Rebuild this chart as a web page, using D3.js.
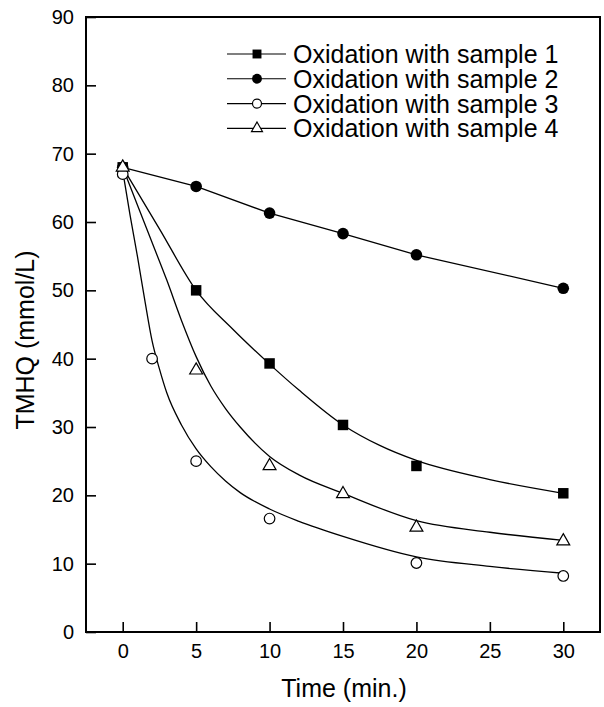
<!doctype html>
<html>
  <head>
    <title>TMHQ oxidation</title>
    <style>
      * { margin: 0; padding: 0; }
      body { background: #fff; font-family: "Liberation Sans", Arial, Helvetica, sans-serif; }
      .tick text { font-size: 20px; fill: #000; font-family: "Liberation Sans", Arial, sans-serif; }
      .tick line { stroke: #000; stroke-width: 1.6px; }
    </style>
    <script src="https://cdnjs.cloudflare.com/ajax/libs/d3/7.8.5/d3.min.js"></script>
  </head>
  <body>
    <script>
    // data
    var names = ["Oxidation with sample 1", "Oxidation with sample 2", "Oxidation with sample 3", "Oxidation with sample 4"];
    var markers = ["square", "circle", "ocircle", "triangle"];

    // measured points
    var t1 = [0, 5, 10, 15, 20, 30];
    var s1 = [68, 50, 39.3, 30.3, 24.3, 20.3];
    var t2 = [0, 5, 10, 15, 20, 30];
    var s2 = [68, 65.2, 61.3, 58.3, 55.2, 50.3];
    var t3 = [0, 2, 5, 10, 20, 30];
    var s3 = [67, 40, 25, 16.6, 10.1, 8.2];
    var t4 = [0, 5, 10, 15, 20, 30];
    var s4 = [68, 38.3, 24.3, 20.2, 15.3, 13.3];

    // fitted curves
    var c1t = [0, 2.5, 5, 7.5, 10, 12, 15, 17.5, 20, 25, 30];
    var c1v = [68, 59, 50, 44.3, 39.2, 35.4, 30.3, 27.3, 25.1, 22.3, 20.3];
    var c2t = [0, 5, 10, 15, 20, 30];
    var c2v = [68, 65.2, 61.3, 58.3, 55.2, 50.3];
    var c3t = [0, 0.5, 1, 1.5, 2, 2.5, 3, 4, 5, 6, 7, 8, 10, 12, 15, 20, 25, 30];
    var c3v = [67.5, 61, 55, 48.6, 42.6, 38.5, 35, 30.3, 26.8, 24.2, 22.1, 20.4, 18, 16.2, 14, 11, 9.6, 8.6];
    var c4t = [0, 1, 2, 3, 4, 5, 6, 7, 8, 10, 12, 15, 20, 25, 30];
    var c4v = [68, 62.5, 57, 51.5, 45.6, 40.3, 36, 32.7, 30, 25.7, 23, 20.3, 16.3, 14.6, 13.4];

    var xTicks = [0, 5, 10, 15, 20, 25, 30];
    var yTicks = [0, 10, 20, 30, 40, 50, 60, 70, 80, 90];

    var W = 604, H = 707;
    var svg = d3.select("body").append("svg").attr("width", W).attr("height", H);

    var x = d3.scaleLinear().domain([-2.5, 32.5]).range([86, 600]);
    var y = d3.scaleLinear().domain([0, 90]).range([632, 17]);

    // axes, ticks pointing inward
    svg.append("g")
      .attr("transform", "translate(0,632)")
      .call(d3.axisBottom(x).tickValues(xTicks).tickSize(-10).tickPadding(12))
      .call(function (g) { g.select(".domain").remove(); });

    svg.append("g")
      .attr("transform", "translate(86,0)")
      .call(d3.axisLeft(y).tickValues(yTicks).tickSize(-10).tickPadding(12))
      .call(function (g) { g.select(".domain").remove(); });

    // frame
    svg.append("rect")
      .attr("x", x.range()[0]).attr("y", y.range()[1])
      .attr("width", x.range()[1] - x.range()[0])
      .attr("height", y.range()[0] - y.range()[1])
      .attr("fill", "none").attr("stroke", "#000").attr("stroke-width", 2);

    // curves
    var line = d3.line()
      .x(function (d) { return x(d[0]); })
      .y(function (d) { return y(d[1]); })
      .curve(d3.curveMonotoneX);
    var straight = d3.line()
      .x(function (d) { return x(d[0]); })
      .y(function (d) { return y(d[1]); });

    var curves = [[c1t, c1v], [c2t, c2v], [c3t, c3v], [c4t, c4v]];
    curves.forEach(function (c, i) {
      var pts = d3.zip(c[0], c[1]);
      svg.append("path")
        .attr("d", i === 1 ? straight(pts) : line(pts))
        .attr("fill", "none").attr("stroke", "#000").attr("stroke-width", 1.3);
    });

    function drawMarker(g, kind, cx, cy, k) {
      k = k || 1;
      if (kind === "square") {
        g.append("path").attr("d", d3.symbol(d3.symbolSquare, 110 * k * k)())
          .attr("transform", "translate(" + cx + "," + cy + ")").attr("fill", "#000");
      } else if (kind === "circle") {
        g.append("circle").attr("cx", cx).attr("cy", cy).attr("r", 5.8 * k).attr("fill", "#000");
      } else if (kind === "ocircle") {
        g.append("circle").attr("cx", cx).attr("cy", cy).attr("r", 5.3 * k)
          .attr("fill", "#fff").attr("stroke", "#000").attr("stroke-width", 1.2);
      } else {
        g.append("path").attr("d", d3.symbol(d3.symbolTriangle, 72 * k * k)())
          .attr("transform", "translate(" + cx + "," + cy + ")")
          .attr("fill", "#fff").attr("stroke", "#000").attr("stroke-width", 1.2);
      }
    }

    var pts = [[t1, s1], [t2, s2], [t3, s3], [t4, s4]];
    var mg = svg.append("g");
    pts.forEach(function (p, i) {
      p[0].forEach(function (t, j) {
        drawMarker(mg, markers[i], x(t), y(p[1][j]));
      });
    });

    // legend
    var lg = svg.append("g");
    names.forEach(function (n, i) {
      var cy = 54 + i * 24.8;
      lg.append("line").attr("x1", 227).attr("x2", 286).attr("y1", cy).attr("y2", cy)
        .attr("stroke", "#000").attr("stroke-width", 1.1);
      drawMarker(lg, markers[i], 257, cy, 0.85);
      lg.append("text").attr("x", 293).attr("y", cy).attr("dy", "0.36em")
        .attr("font-size", 25).text(n);
    });

    // axis titles
    svg.append("text").attr("x", 344).attr("y", 697)
      .attr("text-anchor", "middle").attr("font-size", 25).text("Time (min.)");
    svg.append("text")
      .attr("transform", "translate(34,340) rotate(-90)")
      .attr("text-anchor", "middle").attr("font-size", 25).text("TMHQ (mmol/L)");
    </script>
  </body>
</html>
